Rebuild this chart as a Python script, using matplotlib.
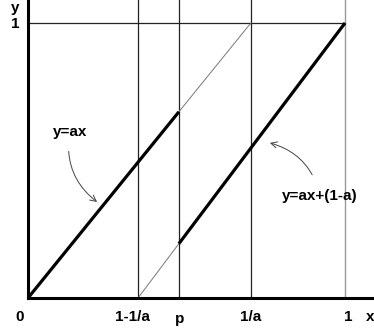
import matplotlib
matplotlib.use("Agg")
import matplotlib.pyplot as plt

# marked positions on the x axis
tick_names = ["0", "1-1/a", "p", "1/a", "1"]
tick_pos = [0.0, 0.347, 0.476, 0.703, 1.0]
x_lo, p, x_hi = 0.347, 0.476, 0.703

# y = ax, from the origin up to y=1 at x=1/a
line1_x = [0.0, x_hi]
line1_y = [0.0, 1.0]
# y = ax + (1-a), from x=1-1/a up to (1, 1)
line2_x = [x_lo, 1.0]
line2_y = [0.0, 1.0]

plt.rcParams["font.family"] = "Liberation Sans"

fig = plt.figure(figsize=(3.74, 3.31), dpi=100)
ax = fig.add_axes([28 / 374, 33 / 331, 1 - 28 / 374, 1 - 33 / 331])
ax.set_xlim(0, 346 / 317)
ax.set_ylim(0, 298 / 275)
for s in ["top", "right"]:
    ax.spines[s].set_visible(False)
for s in ["left", "bottom"]:
    ax.spines[s].set_linewidth(2.2)
ax.set_xticks([])
ax.set_yticks([])

# frame lines
ax.plot([0, 1], [1, 1], color="#222222", lw=0.9)
for xv in [x_lo, p, x_hi]:
    ax.axvline(xv, color="#222222", lw=0.9)
ax.axvline(1.0, color="#999999", lw=1.0)


def y_at(xs, ys, x):
    return ys[0] + (ys[1] - ys[0]) * (x - xs[0]) / (xs[1] - xs[0])


# thin full lines, thick where the map applies
ax.plot(line1_x, line1_y, color="#777777", lw=0.7)
ax.plot(line2_x, line2_y, color="#777777", lw=0.7)
ax.plot([line1_x[0], p], [line1_y[0], y_at(line1_x, line1_y, p)],
        color="black", lw=2.3, solid_capstyle="butt")
ax.plot([p, line2_x[1]], [y_at(line2_x, line2_y, p), line2_y[1]],
        color="black", lw=2.3, solid_capstyle="butt")

# axis labels (nudged to where they sit in the drawing)
label_dx = [-0.025, -0.017, 0.003, 0.0, 0.01]
for name, xv, dx in zip(tick_names, tick_pos, label_dx):
    dy = -0.075 if name == "p" else -0.07
    ax.text(xv + dx, dy, name, ha="center", va="center", fontsize=11,
            fontweight="bold", clip_on=False)
ax.text(1.078, -0.07, "x", ha="center", va="center", fontsize=11,
        fontweight="bold", clip_on=False)
fig.text(15 / 374, 1 - 8 / 331, "y", ha="center", va="center",
         fontsize=11, fontweight="bold")
fig.text(15 / 374, 1 - 24 / 331, "1", ha="center", va="center",
         fontsize=11, fontweight="bold")

# annotations
ax.annotate("y=ax", xy=(0.218, 0.349), xytext=(0.132, 0.604),
            ha="center", va="center", fontsize=11, fontweight="bold",
            arrowprops=dict(arrowstyle="->", color="#444444", lw=0.7,
                            shrinkA=7, shrinkB=0,
                            connectionstyle="arc3,rad=0.3"))
ax.annotate("y=ax+(1-a)", xy=(0.763, 0.564), xytext=(0.921, 0.371),
            ha="center", va="center", fontsize=11, fontweight="bold",
            arrowprops=dict(arrowstyle="->", color="#444444", lw=0.7,
                            shrinkA=9, shrinkB=0,
                            connectionstyle="arc3,rad=0.3"))

fig.savefig("out.png", dpi=100)
